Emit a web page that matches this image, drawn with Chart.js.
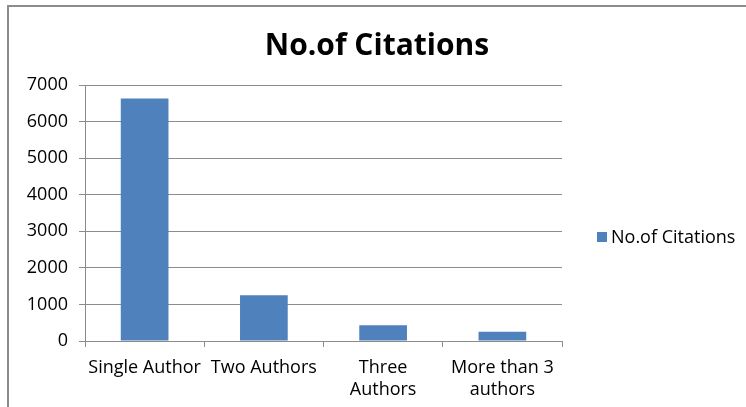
<!DOCTYPE html>
<html>
<head>
<meta charset="utf-8">
<script src="https://cdn.jsdelivr.net/npm/chart.js@4.4.1/dist/chart.umd.min.js"></script>
<style>
  html, body { margin: 0; padding: 0; background: #fff; }
  #wrap { position: relative; width: 746px; height: 407px; overflow: hidden; }
  #frame { position: absolute; left: 7px; top: 5px; width: 760px; height: 420px;
           border-left: 2px solid #8c8c8c; border-top: 2px solid #8c8c8c; }
  canvas { position: absolute; left: 0; top: 0; }
  #legend { position: absolute; left: 597px; top: 224px; font: 18px "Open Sans", sans-serif; color: #000; white-space: nowrap; }
  #legend span.box { display: inline-block; width: 10px; height: 10px; margin-right: 4px; vertical-align: 1px; }
</style>
</head>
<body>
<div id="wrap">
  <div id="frame"></div>
  <canvas id="citChart" width="746" height="407"></canvas>
  <div id="legend"></div>
</div>
<script>
const categories = [["Single Author"], ["Two Authors"], ["Three", "Authors"], ["More than 3", "authors"]];
const citations = [6630, 1250, 430, 250];
const yTicks = [0, 1000, 2000, 3000, 4000, 5000, 6000, 7000];
const seriesName = "No.of Citations";
const barColor = "#4f81bd";

const font = "'Open Sans', sans-serif";
const gridGray = "#8c8c8c";

const ctx = document.getElementById("citChart").getContext("2d");
const chart = new Chart(ctx, {
  type: "bar",
  data: {
    labels: categories,
    datasets: [{ label: seriesName, data: citations, backgroundColor: barColor,
                 barPercentage: 0.4, categoryPercentage: 1 }]
  },
  options: {
    responsive: false,
    animation: false,
    layout: { padding: { left: 8, right: 0, top: 0, bottom: 0 } },
    plugins: {
      legend: { display: false },
      tooltip: { enabled: false },
      title: {
        display: true, text: seriesName, color: "#000",
        font: { family: font, size: 30, weight: "bold" },
        padding: { top: 28, bottom: 21 }
      }
    },
    scales: {
      x: {
        grid: { display: true, drawOnChartArea: false, color: gridGray, tickLength: 6, offset: true },
        border: { color: gridGray, width: 1 },
        ticks: { color: "#000", font: { family: font, size: 18, lineHeight: 1.2 },
                 maxRotation: 0, autoSkip: false, padding: 10 },
        afterFit: s => { s.height = 66; }
      },
      y: {
        min: 0, max: 7000,
        afterBuildTicks: s => { s.ticks = yTicks.map(v => ({ value: v })); },
        grid: { color: gridGray, tickLength: 6 },
        border: { color: gridGray, width: 1 },
        ticks: { color: "#000", font: { family: font, size: 18 }, padding: 11,
                 callback: v => String(v) },
        afterFit: s => { s.width = 77; }
      },
      // empty strip on the right that leaves room for the legend
      side: {
        type: "linear", position: "right", display: true,
        grid: { display: false }, border: { display: false }, ticks: { display: false },
        afterFit: s => { s.width = 184; }
      }
    }
  }
});

// legend from the dataset
const lg = document.getElementById("legend");
chart.data.datasets.forEach(ds => {
  const item = document.createElement("div");
  item.innerHTML = `<span class="box" style="background:${ds.backgroundColor}"></span>${ds.label}`;
  lg.appendChild(item);
});
</script>
</body>
</html>
